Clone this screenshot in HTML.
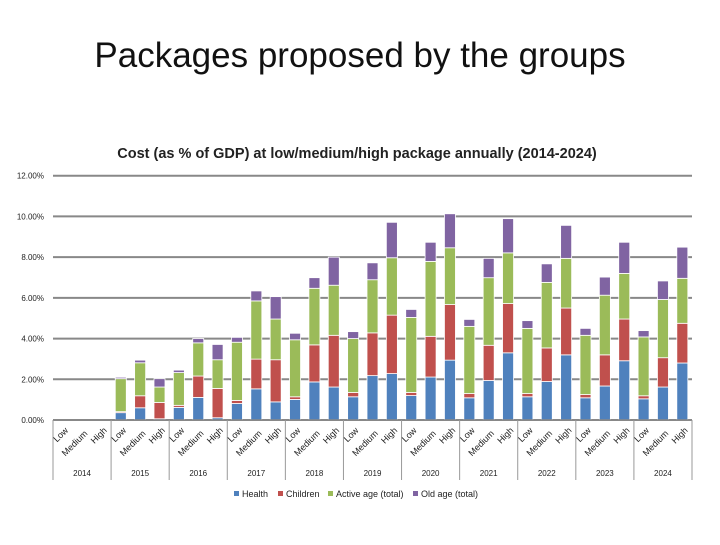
<!DOCTYPE html>
<html><head><meta charset="utf-8"><style>
body{margin:0;background:#fff;}
svg text{font-family:"Liberation Sans",sans-serif;}
</style></head><body>
<svg width="720" height="540" xmlns="http://www.w3.org/2000/svg">
<text x="360" y="67" text-anchor="middle" font-size="35" fill="#111">Packages proposed by the groups</text>
<text x="357" y="158" text-anchor="middle" font-size="14.5" font-weight="bold" fill="#222">Cost (as % of GDP) at low/medium/high package annually (2014-2024)</text>
<g id="grid"></g><g id="bars"></g><g id="xaxis"></g>
<g font-size="9" fill="#222">
<rect x="234" y="491" width="5" height="5" fill="#4F81BD"/><text x="242" y="497">Health</text>
<rect x="278" y="491" width="5" height="5" fill="#C0504D"/><text x="286" y="497">Children</text>
<rect x="328" y="491" width="5" height="5" fill="#9BBB59"/><text x="336" y="497">Active age (total)</text>
<rect x="413" y="491" width="5" height="5" fill="#8064A2"/><text x="421" y="497">Old age (total)</text>
</g>
</svg>
<script>
const years=["2014","2015","2016","2017","2018","2019","2020","2021","2022","2023","2024"];
const levels=["Low","Medium","High"];
const yTicks=[0,2,4,6,8,10,12];
const health=[0,0,0, .36,.6,.06, .62,1.11,.11, .81,1.53,.89, 1.01,1.87,1.62, 1.14,2.18,2.28, 1.2,2.11,2.94, 1.09,1.94,3.3, 1.14,1.89,3.2, 1.09,1.67,2.91, 1.04,1.62,2.8];
const children=[0,0,0, .05,.59,.8, .1,1.05,1.44, .15,1.46,2.07, .13,1.82,2.54, .21,2.1,2.87, .15,2.0,2.73, .21,1.73,2.42, .16,1.65,2.3, .16,1.53,2.05, .15,1.44,1.95];
const active=[0,0,0, 1.62,1.62,.76, 1.61,1.63,1.41, 2.86,2.86,2.0, 2.8,2.78,2.46, 2.65,2.61,2.82, 3.69,3.68,2.79, 3.3,3.32,2.49, 3.2,3.22,2.44, 2.91,2.93,2.24, 2.89,2.86,2.21];
const oldage=[0,0,0, .07,.13,.41, .12,.21,.75, .24,.49,1.1, .32,.52,1.38, .34,.83,1.74, .39,.94,1.67, .34,.95,1.68, .38,.91,1.62, .34,.89,1.53, .31,.91,1.53];
const NS="http://www.w3.org/2000/svg";
const X0=53,X1=692,Y0=420,Y1=175.7,YMAX=12;
const n=years.length*3, cw=(X1-X0)/n, bw=11;
function y(v){return Y0-(v/YMAX)*(Y0-Y1);}
function xc(i){return X0+cw*(i+0.5);}
function mk(t,a,p){const e=document.createElementNS(NS,t);for(const k in a)e.setAttribute(k,a[k]);p.appendChild(e);return e;}
const grid=document.getElementById('grid');
yTicks.forEach(t=>{
  const l=mk('line',{x1:X0,x2:X1,y1:y(t),y2:y(t),stroke:'#888','stroke-width':2},grid);
  
  
  const tx=mk('text',{x:X0-9,y:y(t)+3,'text-anchor':'end','font-size':8,fill:'#222'},grid);
  tx.textContent=t.toFixed(2)+'%';
  
  
});
const bars=document.getElementById('bars');
const series=[[health,'#4F81BD','health'],[children,'#C0504D','children'],[active,'#9BBB59','active'],[oldage,'#8064A2','old']];
for(let i=0;i<n;i++){
  let base=0;
  series.forEach(s=>{
    const v=s[0][i]; if(v<=0) return;
    const r=mk('rect',{x:xc(i)-bw/2,y:y(base+v),width:bw,height:y(base)-y(base+v),fill:s[1],stroke:'#fff','stroke-width':0.8},bars);
    
    
    base+=v;
  });
}
const xa=document.getElementById('xaxis');
const ax=mk('line',{x1:X0,x2:X1,y1:Y0,y2:Y0,stroke:'#888','stroke-width':1.5},xa);


for(let g=0;g<=years.length;g++){
  const gx=X0+cw*3*g;
  const l=mk('line',{x1:gx,x2:gx,y1:Y0,y2:480,stroke:'#999','stroke-width':1},xa);
  
  
}
years.forEach((yr,g)=>{
  const t=mk('text',{x:X0+cw*(3*g+1.5),y:476,'text-anchor':'middle','font-size':8,fill:'#222'},xa);
  t.textContent=yr;
  
  
});
for(let i=0;i<n;i++){
  const lv=levels[i%3];
  const cx=xc(i)+2, cy=Y0+7+(i%3===1?3:0);
  const t=mk('text',{x:cx+4,y:cy+4,'text-anchor':'end','font-size':9,fill:'#222',transform:'rotate(-45 '+(cx+4)+' '+(cy+4)+')'},xa);
  t.textContent=lv;
  
  
}
</script>
</body></html>
